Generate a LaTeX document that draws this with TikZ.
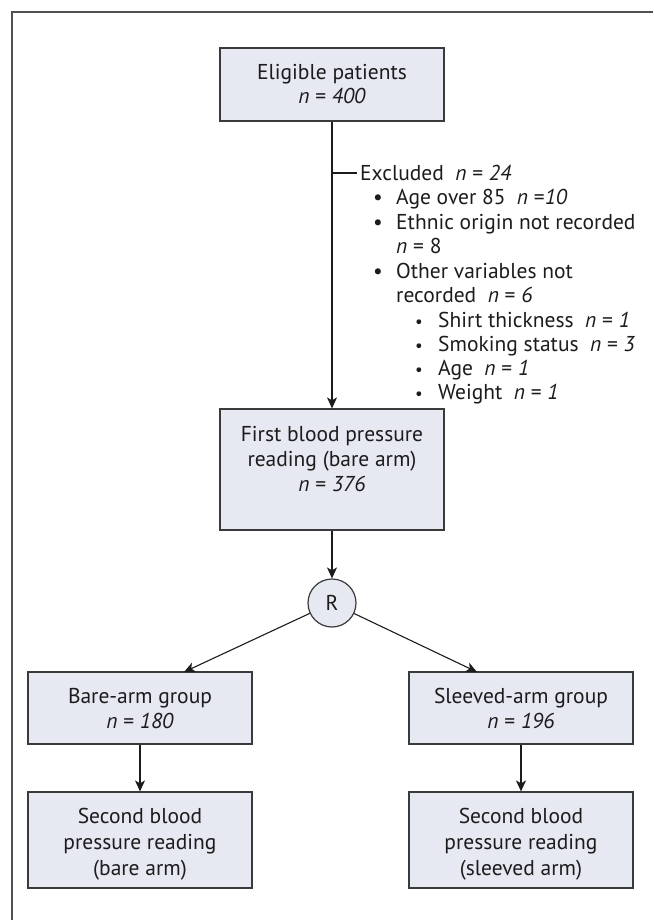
\documentclass[tikz,border=0pt]{standalone}
\usepackage{fontspec}
\setmainfont{PT Sans}
\usetikzlibrary{arrows.meta}
\definecolor{boxfill}{HTML}{E6E8F2}
\definecolor{ink}{HTML}{1C1C1C}
\definecolor{edgec}{HTML}{3A3A3A}
\definecolor{framec}{HTML}{505050}
\begin{document}
\begin{tikzpicture}[x=1pt,y=-1pt,
  every node/.style={text=ink},
  boxnode/.style={draw=edgec, line width=1.2pt, fill=boxfill, inner sep=0pt, minimum width=224pt},
  txt/.style={font=\fontsize{21.5}{24}\selectfont, inner sep=0pt, anchor=base},
  ltxt/.style={font=\fontsize{21.5}{24}\selectfont, inner sep=0pt, anchor=base west},
  bul/.style={font=\fontsize{21.5}{24}\selectfont, inner sep=0pt, anchor=base},
  sbul/.style={font=\fontsize{17}{18}\selectfont, inner sep=0pt, anchor=base},
  arr/.style={draw=ink, line width=1.1pt, -{Stealth[length=11pt,width=10pt,inset=3pt]}},
  conn/.style={draw=ink, line width=1.1pt},
  framel/.style={draw=framec, line width=2pt}
]
\useasboundingbox (0,0) rectangle (653,920);
\fill[white] (0,0) rectangle (653,920);
\draw[framel] (11.5,920) -- (11.5,12) -- (653,12);

% boxes
\node[boxnode, minimum height=73pt] (elig) at (332,84.5) {};
\node[txt] (eligA) at (332,79.5) {Eligible patients};
\node[txt] (eligB) at (332,104) {\textit{n} = \textit{400}};

\node[boxnode, minimum height=121pt] (first) at (332,469.5) {};
\node[txt] (firstA) at (332,441) {First blood pressure};
\node[txt] (firstB) at (332,466) {reading (bare arm)};
\node[txt] (firstC) at (332,491) {\textit{n} = \textit{376}};

\node[draw=edgec, line width=1.2pt, fill=boxfill, circle, minimum size=48pt, inner sep=0pt,
      font=\fontsize{21.5}{24}\selectfont] (R) at (332,603) {R};

\node[boxnode, minimum height=72pt] (bare) at (140,708) {};
\node[txt] (bareA) at (140,703) {Bare-arm group};
\node[txt] (bareB) at (140,728) {\textit{n} = \textit{180}};

\node[boxnode, minimum height=72pt] (sleeve) at (521,708) {};
\node[txt] (sleeveA) at (521,703) {Sleeved-arm group};
\node[txt] (sleeveB) at (521,728) {\textit{n} = \textit{196}};

\node[boxnode, minimum height=96pt] (secA) at (140,840) {};
\node[txt] (secA1) at (140,823) {Second blood};
\node[txt] (secA2) at (140,849) {pressure reading};
\node[txt] (secA3) at (140,875) {(bare arm)};

\node[boxnode, minimum height=96pt] (secB) at (521,840) {};
\node[txt] (secB1) at (521,823) {Second blood};
\node[txt] (secB2) at (521,849) {pressure reading};
\node[txt] (secB3) at (521,875) {(sleeved arm)};

% exclusion list
\coordinate (tickA) at (332,173);
\coordinate (tickB) at (357,173);
\node[ltxt] (exc) at (360,180) {Excluded\ \ \textit{n} = \textit{24}};
\node[bul] (b1) at (378,204.5) {•};
\node[ltxt] (t1) at (396,204.5) {Age over 85\ \ \textit{n} =\textit{10}};
\node[bul] (b2) at (378,229) {•};
\node[ltxt] (t2) at (396,229) {Ethnic origin not recorded};
\node[ltxt] (t2b) at (396,253.5) {\textit{n} = 8};
\node[bul] (b3) at (378,278) {•};
\node[ltxt] (t3) at (396,278) {Other variables not};
\node[ltxt] (t3b) at (396,302.5) {recorded\ \ \textit{n} = \textit{6}};
\node[sbul] (s1) at (419,327) {•};
\node[ltxt] (u1) at (438,327) {Shirt thickness\ \ \textit{n} = \textit{1}};
\node[sbul] (s2) at (419,351) {•};
\node[ltxt] (u2) at (438,351) {Smoking status\ \ \textit{n} = \textit{3}};
\node[sbul] (s3) at (419,375) {•};
\node[ltxt] (u3) at (438,375) {Age\ \ \textit{n} = \textit{1}};
\node[sbul] (s4) at (419,399) {•};
\node[ltxt] (u4) at (438,399) {Weight\ \ \textit{n} = \textit{1}};

% connectors
\draw[arr] (elig.south) -- (first.north);
\draw[conn] (tickA) -- (tickB);
\draw[arr] (first.south) -- (R.north);
\coordinate (bareTip) at (184,672);
\coordinate (sleeveTip) at (477,672);
\draw[arr] (R) -- (bareTip);
\draw[arr] (R) -- (sleeveTip);
\draw[arr] (bare.south) -- (secA.north);
\draw[arr] (sleeve.south) -- (secB.north);
\end{tikzpicture}
\end{document}
